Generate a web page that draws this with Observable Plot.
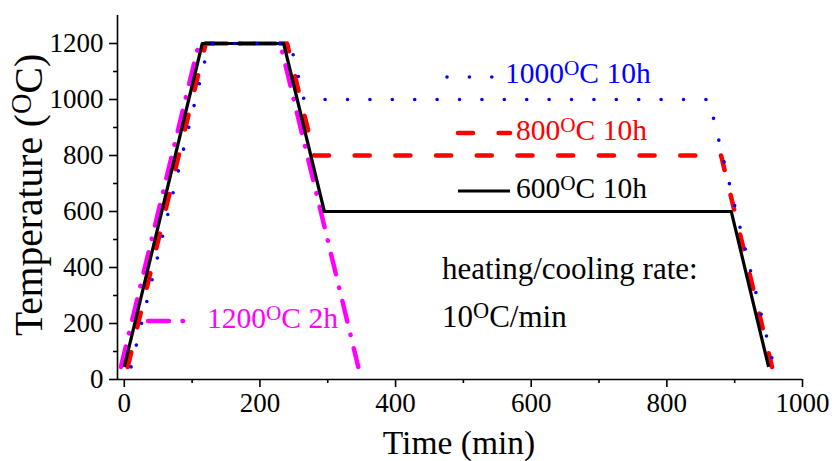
<!DOCTYPE html>
<html>
<head>
<meta charset="utf-8">
<script src="https://cdn.jsdelivr.net/npm/d3@7"></script>
<script src="https://cdn.jsdelivr.net/npm/@observablehq/plot@0.6"></script>
<style>
  html, body { margin: 0; padding: 0; background: #fff; }
  svg { display: block; }
</style>
</head>
<body>
<div id="chart"></div>
<script>
// Heat-treatment schedules: time (min) and furnace temperature (°C) at each corner.
const time1200 = [-5, 110, 230, 345];
const temp1200 = [45, 1200, 1200, 45];

const time1000 = [10, 125, 245, 265, 862, 958];
const temp1000 = [45, 1200, 1200, 1000, 1000, 45];

const time800 = [5, 120, 240, 280, 880, 955];
const temp800 = [45, 1200, 1200, 800, 800, 45];

const time600 = [0, 115, 235, 295, 895, 950];
const temp600 = [45, 1200, 1200, 600, 600, 45];

// Axis ticks
const xTicks = [0, 200, 400, 600, 800, 1000];
const xMinorTicks = [100, 300, 500, 700, 900];
const yTicks = [0, 200, 400, 600, 800, 1000, 1200];
const yMinorTicks = [100, 300, 500, 700, 900, 1100];

// Legend labels: value and unit suffix
const legendNames = ["1000", "800", "600", "1200"];
const legendSuffix = ["C 10h", "C 10h", "C 10h", "C 2h"];

const toRows = (times, temps) => times.map((t, i) => ({time: t, temp: temps[i]}));

const styles = {
  s1200: {stroke: "#ff00ff", strokeWidth: 4.5, strokeDasharray: "21,13.5,0.5,13.5", strokeLinecap: "round"},
  s1000: {stroke: "#0000ff", strokeWidth: 3.6, strokeDasharray: "0,22.4", strokeLinecap: "round"},
  s800: {stroke: "#ff0000", strokeWidth: 4.6, strokeDasharray: "15,25.7", strokeLinecap: "round"},
  s600: {stroke: "#000000", strokeWidth: 3.2, strokeLinecap: "butt"}
};

const serif = "'Liberation Serif', 'Times New Roman', serif";

const chart = Plot.plot({
  width: 834,
  height: 461,
  marginLeft: 117,
  marginRight: 32,
  marginTop: 15,
  marginBottom: 82,
  x: {domain: [-10, 1000]},
  y: {domain: [0, 1300]},
  style: {fontFamily: serif, fontSize: "27px", color: "#000", background: "#fff"},
  marks: [
    Plot.ruleY([0], {strokeWidth: 1.6}),
    Plot.ruleX([-10], {strokeWidth: 1.6}),
    Plot.axisX({ticks: xTicks, tickSize: 8, tickPadding: 5, strokeWidth: 1.6, label: null, tickFormat: d => String(d)}),
    Plot.axisX({ticks: xMinorTicks, tickSize: 4, strokeWidth: 1.6, label: null, tickFormat: () => ""}),
    Plot.axisY({ticks: yTicks, tickSize: 8, tickPadding: 6, strokeWidth: 1.6, label: null, tickFormat: d => String(d)}),
    Plot.axisY({ticks: yMinorTicks, tickSize: 4, strokeWidth: 1.6, label: null, tickFormat: () => ""}),
    Plot.line(toRows(time1200, temp1200), {x: "time", y: "temp", ...styles.s1200}),
    Plot.line(toRows(time800, temp800), {x: "time", y: "temp", ...styles.s800}),
    Plot.line(toRows(time600, temp600), {x: "time", y: "temp", ...styles.s600}),
    Plot.line(toRows(time1000, temp1000), {x: "time", y: "temp", ...styles.s1000})
  ]
});

document.getElementById("chart").append(chart);

const svg = d3.select(chart);

// Text with a raised "O" degree marker: before + superscript O + after
function degreeText(g, before, after, size) {
  const t = g.append("text")
    .attr("text-anchor", "start")
    .attr("font-family", serif)
    .attr("font-size", size);
  t.append("tspan").text(before);
  t.append("tspan").attr("font-size", size * 0.72).attr("dy", -size * 0.28).text("O");
  t.append("tspan").attr("dy", size * 0.28).text(after);
  return t;
}

// Axis titles
degreeText(svg.append("g").attr("transform", "translate(42,195) rotate(-90)"), "Temperature (", "C)", 39.5)
  .attr("text-anchor", "middle");
svg.append("text")
  .attr("x", 459).attr("y", 454)
  .attr("text-anchor", "middle")
  .attr("font-family", serif).attr("font-size", 33.5)
  .text("Time (min)");

// Legend entries placed inside the plot area
const legendLayout = [
  {x0: 447, x1: 492, ly: 77, tx: 505, ty: 83, color: "#0000ff", style: styles.s1000},
  {x0: 458, x1: 510, ly: 133, tx: 516, ty: 140, color: "#ff0000", style: styles.s800},
  {x0: 458, x1: 510, ly: 191, tx: 516, ty: 198, color: "#000000", style: styles.s600},
  {x0: 148, x1: 187, ly: 321, tx: 207, ty: 328, color: "#ff00ff", style: styles.s1200}
];

legendLayout.forEach((d, i) => {
  svg.append("line")
    .attr("x1", d.x0).attr("x2", d.x1).attr("y1", d.ly).attr("y2", d.ly)
    .attr("stroke", d.style.stroke)
    .attr("stroke-width", d.style.strokeWidth)
    .attr("stroke-dasharray", d.style.strokeDasharray || null)
    .attr("stroke-linecap", d.style.strokeLinecap);
  degreeText(svg.append("g").attr("transform", `translate(${d.tx},${d.ty})`), legendNames[i], legendSuffix[i], 29.5)
    .attr("fill", d.color);
});

// Heating/cooling rate note
svg.append("text")
  .attr("x", 442).attr("y", 279)
  .attr("text-anchor", "start")
  .attr("font-family", serif).attr("font-size", 31)
  .text("heating/cooling rate:");
degreeText(svg.append("g").attr("transform", "translate(442,327)"), "10", "C/min", 31);
</script>
</body>
</html>
